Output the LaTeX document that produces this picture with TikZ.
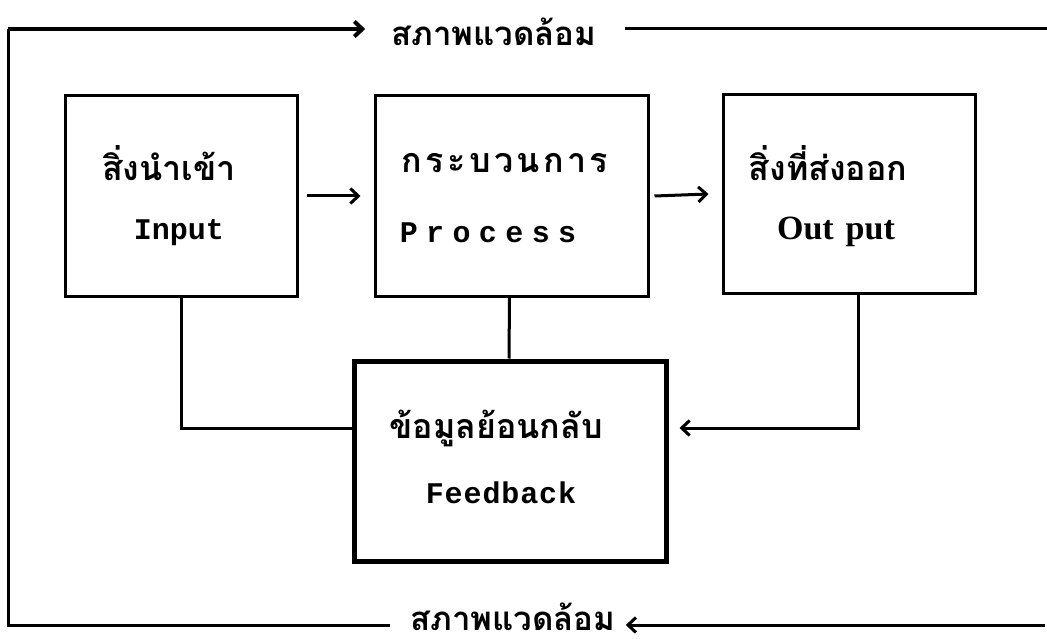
\documentclass[tikz,border=0pt]{standalone}
\usepackage{fontspec}
\usetikzlibrary{arrows.meta,calc}
\newfontfamily\thaifont[Script=Thai]{Loma}
\newfontfamily\monofnt{Liberation Mono}
\newfontfamily\seriffnt{Liberation Serif}
\tikzset{
  box/.style={draw, line width=3pt, inner sep=0pt},
  conn/.style={line width=3pt},
  arr/.style={line width=3pt, -{Straight Barb[length=8pt,width=15pt]}},
  thtxt/.style={inner sep=0pt, font=\thaifont\bfseries\fontsize{34}{34}\selectfont},
  entxt/.style={inner sep=0pt, font=\monofnt\bfseries\fontsize{30}{30}\selectfont},
  envtxt/.style={inner sep=0pt, anchor=base, text depth=0pt, font=\thaifont\bfseries\fontsize{33}{33}\selectfont}
}
\begin{document}
\begin{tikzpicture}[x=1pt,y=-1pt]
\useasboundingbox[fill=white] (0,0) rectangle (1047,639);
% boxes
\node[box, minimum width=232pt, minimum height=200pt] (in) at (181,196) {};
\node[box, minimum width=273pt, minimum height=200pt] (proc) at (511.5,196) {};
\node[box, minimum width=252pt, minimum height=198pt] (out) at (849,194) {};
\node[box, line width=5pt, minimum width=312pt, minimum height=200pt] (fb) at (510,461) {};
% labels
\node[thtxt] (inTh) at (169,163) {สิ่งนำเข้า};
\node[entxt] (inEn) at (179,233) {Input};
\node[thtxt] (procTh) at (505,163) {\addfontfeature{LetterSpace=10}กระบวนการ};
\node[entxt] (procEn) at (488,233) {\addfontfeature{LetterSpace=28}Process};
\node[thtxt] (outTh) at (828,163) {สิ่งที่ส่งออก};
\node[inner sep=0pt, font=\seriffnt\bfseries\fontsize{34}{34}\selectfont] (outEn) at (836,232) {Out\hspace{12pt}put};
\node[thtxt] (fbTh) at (496,428) {ข้อมูลย้อนกลับ};
\node[entxt] (fbEn) at (501,493) {\addfontfeature{LetterSpace=3}Feedback};
% environment
\node[envtxt] (envT) at (494,46) {สภาพแวดล้อม};
\node[envtxt] (envB) at (513,630) {สภาพแวดล้อม};
\coordinate (TL) at (8,29);
\coordinate (BL) at (8,625);
\coordinate (TR) at (1047,29);
\coordinate (BR) at (1045,625);
\draw[conn] ($(envB.west |- BL)+(-20pt,0)$) -- (BL) -- (TL);
\draw[arr, line width=4pt] (TL) -- ($(envT.west |- TL)+(-26pt,0)$);
\draw[conn] ($(envT.east |- TR)+(28pt,0)$) -- (TR);
\draw[arr] (BR) -- ($(envB.east |- BR)+(10pt,0)$);
% main flow
\draw[arr] ([xshift=8pt]in.east) -- ([xshift=-13pt]proc.west);
\draw[arr] ([xshift=5pt]proc.east) -- ([xshift=-13pt]out.west);
% feedback connectors
\draw[conn] (in.south) |- ([yshift=33pt]fb.west);
\draw[conn] ([xshift=-2pt]proc.south) -- ([xshift=-1pt]fb.north);
\draw[arr] ([xshift=9pt]out.south) |- ([xshift=11pt,yshift=33pt]fb.east);
\end{tikzpicture}
\end{document}
